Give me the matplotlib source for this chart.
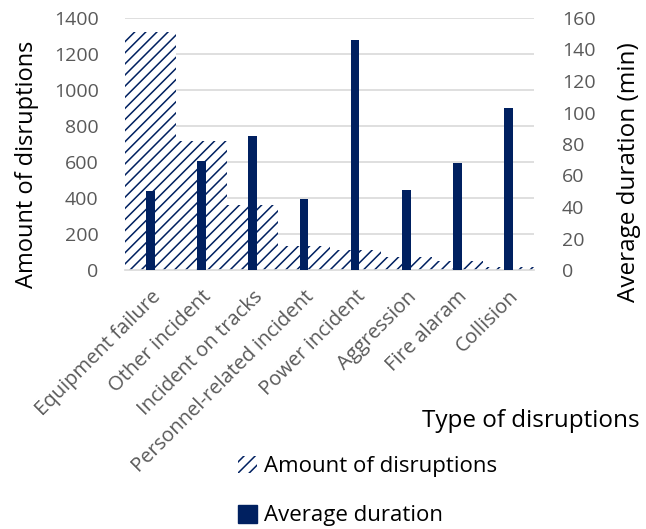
import matplotlib
matplotlib.use("Agg")
import matplotlib.pyplot as plt
import numpy as np
from matplotlib.patches import Patch

categories = ["Equipment failure", "Other incident", "Incident on tracks",
              "Personnel-related incident", "Power incident", "Aggression",
              "Fire alaram", "Collision"]
amount = [1325, 715, 360, 132, 112, 75, 52, 15]
duration = [50, 69, 85, 45, 146, 51, 68, 103]
left_ticks = [0, 200, 400, 600, 800, 1000, 1200, 1400]
right_ticks = [0, 20, 40, 60, 80, 100, 120, 140, 160]

navy = "#002060"
tick_gray = "#595959"
grid_gray = "#d9d9d9"

plt.rcParams["font.family"] = ["Open Sans", "DejaVu Sans"]
plt.rcParams["hatch.linewidth"] = 1.1
plt.rcParams["hatch.color"] = navy

fig = plt.figure(figsize=(6.46, 5.29), dpi=100)
ax = fig.add_axes([125 / 646, 1 - 270 / 529, 409 / 646, 252 / 529])
ax2 = ax.twinx()

x = np.arange(len(categories))

# grid behind everything
ax.set_axisbelow(True)
ax.yaxis.grid(True, color=grid_gray, linewidth=1.2)

ax.bar(x, amount, width=1.0, color="white", edgecolor=navy, linewidth=0,
       hatch="///", zorder=2)
ax2.bar(x, duration, width=0.17, color=navy, linewidth=0, zorder=3)

ax.set_xlim(-0.5, len(categories) - 0.5)
ax.set_ylim(0, 1400)
ax2.set_ylim(0, 160)
ax.set_yticks(left_ticks)
ax2.set_yticks(right_ticks)

for a in (ax, ax2):
    for s in a.spines.values():
        s.set_visible(False)
    a.tick_params(length=0, labelsize=14, colors=tick_gray)
ax.spines["bottom"].set_visible(True)
ax.spines["bottom"].set_color(grid_gray)
ax.spines["bottom"].set_linewidth(1.2)
ax.tick_params(axis="y", pad=19)
ax2.tick_params(axis="y", pad=20)

ax.set_xticks(x)
ax.set_xticklabels(categories, rotation=45, ha="right", rotation_mode="anchor",
                   fontsize=14.5, color=tick_gray)
ax.tick_params(axis="x", pad=12)

ax.set_ylabel("Amount of disruptions", fontsize=17, color="black")
ax2.set_ylabel("Average duration (min)", fontsize=17.5, color="black")
ax.yaxis.set_label_coords(-0.21, 0.42)
ax2.yaxis.set_label_coords(1.203, 0.39)

fig.text(640 / 646, 1 - 421 / 529, "Type of disruptions", fontsize=17.5,
         ha="right", va="center", color="black")

handles = [Patch(facecolor="white", edgecolor=navy, hatch="///", linewidth=0),
           Patch(facecolor=navy, edgecolor=navy)]
fig.legend(handles, ["Amount of disruptions", "Average duration"],
           loc="center left", bbox_to_anchor=(218 / 646, 1 - 491 / 529),
           frameon=False, fontsize=16, handlelength=0.85, handleheight=0.85,
           handletextpad=0.3, labelspacing=1.25)

fig.savefig("out.png", dpi=100)
